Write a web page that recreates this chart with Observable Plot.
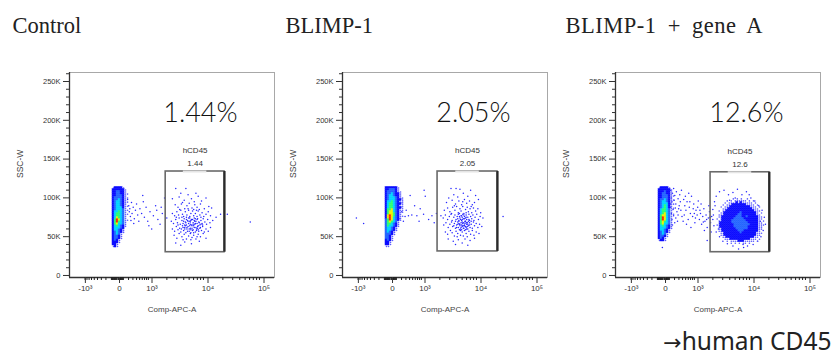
<!DOCTYPE html>
<html><head><meta charset="utf-8">
<script src="https://cdn.jsdelivr.net/npm/d3@7"></script>
<script src="https://cdn.jsdelivr.net/npm/@observablehq/plot@0.6"></script>
<style>
body{margin:0;background:#fff;}
#chart{position:relative;width:834px;height:356px;overflow:hidden;background:#fff;}
#chart svg{position:absolute;top:0;overflow:visible;}
</style></head><body><div id="chart"></div>
<script>
// ---------- data ----------
const panelNames = ["Control", "BLIMP-1", "BLIMP-1 + gene A"];
const percentLabels = ["1.44%", "2.05%", "12.6%"];
const gateName = "hCD45";
const gateValues = ["1.44", "2.05", "12.6"];
// gate bounds [x1, x2, y1(K), y2(K)] in display units
const gates = [[1.28, 2.33, 30, 134], [1.26, 2.33, 31, 134], [1.26, 2.31, 30, 133]];
const yTicks = [0, 50, 100, 150, 200, 250];
const yTickLabels = ["0", "50K", "100K", "150K", "200K", "250K"];
const xTickPos = [-0.19, 0.42, 1, 2, 3];
const xTickLabels = ["-10³", "0", "10³", "10⁴", "10⁵"];
const xLabel = "Comp-APC-A";
const yLabel = "SSC-W";
const footnoteArrow = "→";
const footnoteText = "human CD45";

// density grids (levels 0-7), origin = top-left corner in data units
const blobOrigin = {x: 0.33, y: 114, dx: 0.036, dy: 2.6};
const blob1 = ["122221000","222222100","223322100","223322110","223332100","233332110","233432100","234432110","234432100","234432110","234442100","234443110","244543100","245543110","245543100","246543100","257643110","257543100","256443100","245432100","244432000","244321000","234321000","234310000","233210000","233210000","232100000","222100000","221000000","121000000"];
const blob2 = ["222222100","223332100","233332110","233432210","234432210","234443211","234443221","244543211","245543221","245543211","245543221","255643211","256643211","256653210","267653211","267643210","357643210","356543100","355432100","354432100","344321000","344321000","343210000","333210000","332100000","332100000","232100000","221000000","221000000","110000000"];
const blob3 = ["122221000","222222100","222322100","223322100","223332110","223332100","233432110","234432100","234442110","234542100","234542110","245543100","245543100","245643110","256643100","257643100","257643100","256543100","256443100","245432100","244432100","244321000","234321000","234310000","233210000","232100000","122100000","000000000","000000000","000000000"];
const gateGridOrigin3 = {x: 1.36, y: 100, dx: 0.036, dy: 2.6};
const gateGrid3 = ["000000001010100100000000","000001010111111010100000","000010111121211111010000","000101112222222111101000","001011122222222221110100","000111222222222222111000","010112222222222222211100","001122222222322222221010","011122222223322222221100","011222222233322322222110","101222222333332222222110","011222223333333222222101","012222223333333322222110","112222222333333332222111","012222222333333322222110","011222222233333322222110","011222222223332222222100","001122222222322222221110","001122222222222222221100","000112222222222222211000","000011122222222221110100","000001011112221111101000","000000010101011010000000"];

// scattered events [x (display units), y (K)]
const cloud1 = [[1.46,112],[1.64,112],[1.55,106],[1.68,104],[1.82,106],[2.0,100],
[1.40,99],[1.52,101],[1.61,97],[1.74,99],[1.79,95],[1.92,96],[1.58,94],[1.86,102],
[1.45,91],[1.50,88],[1.56,92],[1.62,86],[1.66,90],[1.70,93],[1.75,87],[1.80,91],[1.84,88],[1.90,92],[1.97,86],[2.05,89],[1.53,85],[1.68,86],[1.78,85],[1.88,85],[2.10,87],
[1.40,80],[1.44,77],[1.48,82],[1.51,78],[1.55,84],[1.58,79],[1.60,76],[1.63,82],[1.66,78],[1.69,84],[1.71,76],[1.73,80],[1.76,83],[1.78,77],[1.81,80],[1.84,76],[1.86,83],[1.89,78],[1.93,81],[1.96,76],[2.00,79],[2.04,82],[1.47,75],[1.57,75],[1.65,75],[1.83,84],[1.91,75],[2.08,77],
[1.38,70],[1.42,67],[1.46,72],[1.49,68],[1.52,74],[1.54,66],[1.57,71],[1.59,67],[1.61,73],[1.63,69],[1.65,65],[1.67,71],[1.69,67],[1.71,74],[1.72,69],[1.74,65],[1.76,72],[1.77,68],[1.79,74],[1.80,66],[1.82,70],[1.84,67],[1.85,73],[1.87,69],[1.89,65],[1.91,71],[1.93,67],[1.95,73],[1.98,69],[2.01,66],[2.03,72],[2.07,68],[2.12,71],[1.50,65],[1.62,65],[1.73,71],[1.81,73],[1.94,65],
[1.40,60],[1.44,57],[1.47,63],[1.50,59],[1.53,61],[1.55,56],[1.58,64],[1.60,58],[1.62,62],[1.64,55],[1.66,60],[1.68,63],[1.70,57],[1.72,61],[1.73,55],[1.75,64],[1.77,59],[1.79,62],[1.81,56],[1.83,60],[1.85,63],[1.87,57],[1.89,61],[1.92,58],[1.94,63],[1.97,56],[2.00,60],[2.04,57],[2.08,62],[1.71,64],[1.78,55],[1.56,60],[1.86,59],
[1.43,52],[1.48,48],[1.52,54],[1.57,50],[1.61,53],[1.65,47],[1.69,51],[1.72,54],[1.75,49],[1.78,52],[1.82,47],[1.86,53],[1.90,50],[1.95,54],[2.00,48],[1.59,46],[1.73,46],[1.84,50],
[1.46,42],[1.62,43],[1.74,41],[1.88,44],[1.55,39],
[1.64,68],[1.66,62],[1.68,70],[1.70,60],[1.72,66],[1.74,72],[1.76,58],[1.78,64],[1.80,70],[1.82,62],[1.84,72],[1.86,64],[1.60,70],[1.62,60],[1.88,68],[1.90,62],[1.67,57],[1.75,61],[1.83,58],[1.79,71],[1.69,74],[1.77,66],[1.65,72],[1.73,59],[1.81,67],[1.71,70],[1.85,61],[1.63,64],[1.59,62],[1.91,66]];
const bridge1 = [[0.60,98],[0.62,90],[0.63,82],[0.65,76],[0.64,86],[0.67,94],[0.68,80],[0.70,88],[0.72,73],[0.74,84],[0.76,92],[0.78,78],[0.80,70],[0.82,86],[0.85,80],[0.88,95],[0.90,75],[0.93,88],[0.96,70],[1.00,82],[1.03,60],[1.06,77],[1.10,90],[1.14,72],[1.18,66],[1.22,80],[1.26,100],[1.30,74],[1.12,84],[0.98,64],[0.71,67],[0.66,71],[0.87,103],[1.20,88],
[2.26,79],[2.38,79],[2.79,69],[2.18,75]];

const cloud2 = [[1.50,112],[1.59,112],[1.66,111],[1.85,110],[1.55,104],[1.72,106],[1.94,103],[1.62,101],[1.80,102],[1.46,100],
[1.42,94],[1.52,97],[1.58,92],[1.64,96],[1.69,91],[1.74,98],[1.78,93],[1.83,96],[1.88,91],[1.56,90],[1.71,95],[1.92,94],[1.99,98],
[1.38,84],[1.44,87],[1.48,82],[1.53,88],[1.57,84],[1.60,89],[1.63,81],[1.66,86],[1.68,83],[1.71,89],[1.73,80],[1.76,85],[1.79,88],[1.81,82],[1.84,86],[1.87,81],[1.90,87],[1.94,83],[1.98,86],[2.03,81],[1.51,80],[1.65,80],[1.77,81],[1.86,89],
[1.36,74],[1.40,78],[1.44,72],[1.47,76],[1.50,79],[1.52,71],[1.55,75],[1.57,78],[1.59,72],[1.61,76],[1.63,79],[1.64,71],[1.66,74],[1.68,77],[1.69,71],[1.71,79],[1.72,73],[1.74,76],[1.75,70],[1.77,78],[1.78,72],[1.80,75],[1.82,79],[1.83,71],[1.85,76],[1.87,73],[1.89,78],[1.91,71],[1.93,75],[1.96,79],[1.99,72],[2.02,76],[2.07,74],[1.58,70],[1.67,72],[1.73,78],[1.81,70],[1.70,75],[1.62,73],[1.76,74],
[1.37,65],[1.41,68],[1.45,62],[1.48,66],[1.51,69],[1.53,63],[1.56,67],[1.58,61],[1.60,65],[1.62,69],[1.63,62],[1.65,66],[1.67,60],[1.68,68],[1.70,63],[1.71,67],[1.72,61],[1.74,65],[1.75,69],[1.77,62],[1.78,66],[1.80,60],[1.81,64],[1.83,68],[1.84,62],[1.86,66],[1.88,61],[1.90,69],[1.92,64],[1.95,67],[1.98,62],[2.01,66],[2.05,63],[1.69,65],[1.73,64],[1.76,63],[1.66,64],[1.79,68],[1.55,64],[1.64,67],
[1.40,56],[1.44,53],[1.49,58],[1.52,55],[1.56,51],[1.59,57],[1.62,54],[1.65,59],[1.67,52],[1.70,56],[1.72,51],[1.74,58],[1.77,54],[1.79,50],[1.82,57],[1.85,53],[1.88,58],[1.91,52],[1.95,56],[2.00,54],[1.69,59],[1.76,59],[1.61,50],
[1.45,47],[1.54,44],[1.63,46],[1.70,42],[1.75,47],[1.84,45],[1.92,48],[1.58,40],[1.80,39],
[1.64,70],[1.66,66],[1.68,62],[1.70,72],[1.72,68],[1.74,64],[1.76,70],[1.78,60],[1.80,66],[1.82,72],[1.69,77],[1.73,61],[1.77,75],[1.67,58],[1.71,64],[1.75,67],[1.79,63],[1.65,76],[1.83,65],[1.62,66],[1.86,70],[1.60,62],[1.74,73],[1.70,69],[1.78,68]];
const bridge2 = [[0.77,103],[1.02,110],[1.04,102],[0.95,86],[0.80,78],[0.74,77],[0.68,76],[0.89,77],[1.01,79],[1.16,77],[1.24,80],[1.20,68],[1.32,77],[0.65,70],[0.59,73],[0.62,82],[0.57,92],[0.60,88],[0.70,84],[0.85,90],[1.10,72],[0.93,70],
[-0.19,74],[-0.06,67],[2.43,76]];

const cloud3 = [[1.30,85],[1.33,95],[1.36,102],[1.42,108],[1.50,110],[1.58,104],[1.66,107],[1.74,111],[1.82,104],[1.90,108],[1.98,100],[2.05,96],[2.12,90],[2.18,84],[2.22,75],[2.24,66],[2.20,58],[2.16,50],[2.10,44],[2.02,40],[1.92,38],[1.84,40],[1.76,34],[1.66,38],[1.56,41],[1.48,44],[1.42,50],[1.36,56],[1.32,64],[1.30,72],[1.31,78],[1.85,36],[1.60,97],[1.70,100],[1.95,104],[2.15,70],[1.34,90],[1.40,60]];
const bridge3 = [[0.55,110],[0.58,106],[0.60,112],[0.56,100],[0.62,103],[0.65,108],[0.57,95],[0.61,97],[0.64,92],[0.68,99],[0.55,88],[0.59,85],[0.63,87],[0.66,82],[0.70,90],[0.72,95],[0.56,80],[0.60,77],[0.64,74],[0.68,78],[0.73,84],[0.57,72],[0.62,68],[0.67,70],[0.75,76],[0.58,65],[0.71,104],[0.74,110],[0.69,86],[0.54,92],
[0.78,98],[0.80,90],[0.82,84],[0.79,78],[0.84,95],[0.86,72],[0.88,88],[0.90,80],[0.92,102],[0.94,76],[0.96,92],[0.98,68],[1.00,84],[1.02,78],[1.04,96],[0.83,66],[0.91,62],[0.99,74],[0.87,106],[0.77,70],[0.95,86],[1.03,88],[0.81,102],[0.89,95],[0.97,80],
[1.06,72],[1.08,80],[1.10,66],[1.12,76],[1.14,86],[1.16,70],[1.18,78],[1.20,62],[1.22,74],[1.24,82],[1.26,68],[1.28,76],[1.09,92],[1.15,58],[1.23,90],[1.27,56],[1.13,69],[1.19,72],[1.25,75],[1.07,84],
[1.20,45],[0.40,36]];

const panels = [
  {points: [...cloud1, ...bridge1], blob: blob1, grids: []},
  {points: [...cloud2, ...bridge2], blob: blob2, grids: []},
  {points: [...cloud3, ...bridge3], blob: blob3, grids: [[gateGrid3, gateGridOrigin3]]}
];

// ---------- layout / style ----------
const W = 288, H = 356;
const M = {left: 69, right: 14, top: 72, bottom: 79};
const xDomain = [-0.4375, 3.223];
const yDomain = [-2.6, 261.6];
const offsets = [0, 273, 546];
const titleDx = [-57, -57, -50];
const palette = ["none", "#5a5aff", "#0c0cff", "#2466ff", "#00d4ff", "#2cff74", "#f2f200", "#ff2400"];
const sans = "Liberation Sans, Arial, sans-serif";

// display position of axis values (logicle-like axis)
function disp(v) {
  if (v >= 1000) return Math.log10(v) - 2;
  const z = xTickPos[1];
  const t = Math.asinh(Math.abs(v) / 1000 * 3.7) / Math.asinh(3.7);
  return v >= 0 ? z + (1 - z) * t : z - (z - xTickPos[0]) * t;
}
const xMinorVals = [];
for (let k = 1; k <= 9; k++) { xMinorVals.push(-k * 100, -k * 10, k * 10, k * 100); }
for (let k = 2; k <= 9; k++) { xMinorVals.push(k * 1000, k * 10000); }
const xMinor = xMinorVals.map(disp);
const yMinor = d3.range(0, 261, 10).filter(v => v % 50 !== 0);

function cellsOf(rows, o) {
  const out = [];
  rows.forEach((row, r) => [...row].forEach((ch, c) => {
    const level = +ch;
    if (level > 0) out.push({x1: o.x + c * o.dx, x2: o.x + (c + 1) * o.dx, y1: o.y - (r + 1) * o.dy, y2: o.y - r * o.dy, level});
  }));
  return out;
}

const root = document.getElementById("chart");
panels.forEach((p, i) => {
  const g = gates[i];
  const xc = (g[0] + g[1]) / 2;
  const cells = [...cellsOf(p.blob, blobOrigin), ...p.grids.flatMap(([rows, o]) => cellsOf(rows, o))];
  const solid = cells.filter(c => c.level > 1);
  const sparse = cells.filter(c => c.level === 1);
  const marks = [
    Plot.frame({stroke: "#a8a8a8"}),
    Plot.dot(p.points, {x: d => d[0], y: d => d[1], r: 0.75, fill: "#2626ff", stroke: null}),
    Plot.dot(sparse, {x: c => (c.x1 + c.x2) / 2, y: c => (c.y1 + c.y2) / 2, r: 0.8, fill: palette[1], stroke: null}),
    Plot.rect(solid, {x1: "x1", x2: "x2", y1: "y1", y2: "y2", fill: d => palette[d.level], stroke: d => palette[d.level], strokeWidth: 0.4}),
    Plot.ruleX([xDomain[0]], {stroke: "#333", strokeWidth: 1.3}),
    Plot.ruleY([yDomain[0]], {stroke: "#333", strokeWidth: 1.3}),
    Plot.axisY({ticks: yMinor, tickSize: 3, tickFormat: () => "", label: null, color: "#333"}),
    Plot.axisY({ticks: yTicks, tickSize: 6, tickPadding: 3, label: null, color: "#333",
      tickFormat: d => yTickLabels[yTicks.indexOf(d)], fontSize: 7.5, fontFamily: sans}),
    Plot.axisX({ticks: xMinor, tickSize: 3, tickFormat: () => "", label: null, color: "#222"}),
    Plot.axisX({ticks: xTickPos, tickSize: 6, tickPadding: 2, label: null, color: "#333",
      tickFormat: d => xTickLabels[xTickPos.indexOf(d)], fontSize: 8, fontFamily: sans, dx: 2}),
    Plot.text([xLabel], {text: d => d, frameAnchor: "bottom", dy: 34, fontSize: 8, fontFamily: sans, fill: "#444"}),
    Plot.text([yLabel], {text: d => d, frameAnchor: "left", dx: -49, dy: 3, rotate: -90, fontSize: 8.5, fontFamily: sans, fill: "#444"}),
    // gate
    Plot.rect([g], {x1: d => d[0], x2: d => d[1], y1: d => d[2], y2: d => d[3], fill: "none", stroke: "#6a6a6a", strokeWidth: 1.6}),
    Plot.ruleX([g], {x: d => d[1], y1: d => d[2], y2: d => d[3], stroke: "#2a2a2a", strokeWidth: 2.2}),
    Plot.ruleY([g], {y: d => d[3], x1: xc - 0.21, x2: xc + 0.21, stroke: "#e4e4e4", strokeWidth: 2}),
    Plot.text([gateName], {text: d => d, x: xc, y: g[3], dy: -21, fontSize: 8, fontFamily: sans, fill: "#333"}),
    Plot.text([gateValues[i]], {text: d => d, x: xc, y: g[3], dy: -8, fontSize: 8, fontFamily: sans, fill: "#333"}),
    // big percentage
    Plot.text([percentLabels[i]], {text: d => d, x: 1.9, y: 209, fontSize: 27, fontWeight: 300, fontFamily: "Lato, sans-serif", fill: "#111"}),
    // panel title
    Plot.text([panelNames[i]], {text: d => d, frameAnchor: "top-left", dx: titleDx[i], dy: -40, lineAnchor: "bottom", textAnchor: "start", fontSize: 22.5, fontFamily: "Liberation Serif, serif", fill: "#222"})
  ];
  if (i === 2) marks.push(Plot.text([footnoteText], {text: d => d, frameAnchor: "bottom-right", dx: 11, dy: 72, lineAnchor: "bottom", textAnchor: "end", fontSize: 24.5, fontFamily: "Noto Sans, sans-serif", fill: "#222"}));
  const svg = Plot.plot({
    width: W, height: H,
    marginLeft: M.left, marginRight: M.right, marginTop: M.top, marginBottom: M.bottom,
    x: {type: "linear", domain: xDomain},
    y: {type: "linear", domain: yDomain},
    style: {background: "transparent", overflow: "visible"},
    marks
  });
  svg.style.left = offsets[i] + "px";
  // slightly wider spacing in the third title, as in the reference
  d3.select(svg).selectAll("text").filter(function () { return this.textContent === panelNames[2]; })
    .style("word-spacing", "5px").style("letter-spacing", "0.5px");
  // arrow glyph before the footnote, in a font with a full-size arrow
  d3.select(svg).selectAll("text").filter(function () { return this.textContent === footnoteText; })
    .each(function () {
      const t = d3.select(this);
      t.text(null);
      t.append("tspan").attr("font-family", "DejaVu Sans").attr("font-size", 22).text(footnoteArrow);
      t.append("tspan").text(footnoteText);
    });
  root.appendChild(svg);
});
</script></body></html>
